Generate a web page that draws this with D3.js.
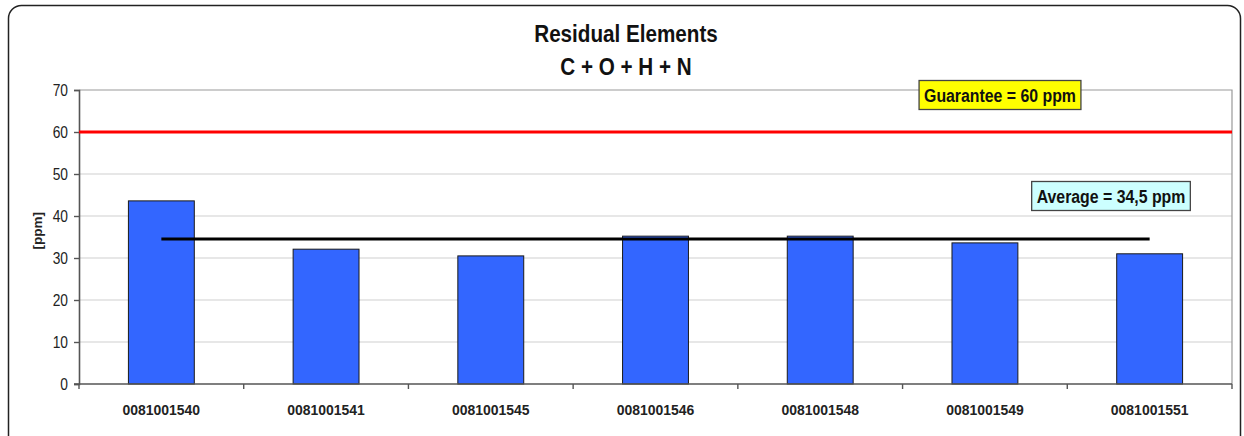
<!DOCTYPE html>
<html>
<head>
<meta charset="utf-8">
<script src="https://cdn.jsdelivr.net/npm/d3@7"></script>
<style>
  html, body { margin: 0; padding: 0; background: #fff; }
  svg text { font-family: "Liberation Sans", Arial, sans-serif; }
</style>
</head>
<body>
<svg id="chart" width="1244" height="436"></svg>
<script>
// Sample identifiers and measured residual content (ppm)
const categories = ["0081001540", "0081001541", "0081001545", "0081001546", "0081001548", "0081001549", "0081001551"];
const values = [43.6, 32.1, 30.5, 35.2, 35.2, 33.6, 31.0];
const guarantee = 60;
const average = 34.5;
const yTicks = [0, 10, 20, 30, 40, 50, 60, 70];
const titleLines = ["Residual Elements", "C + O + H + N"];
const guaranteeLabel = "Guarantee = 60 ppm";
const averageLabel = "Average = 34,5 ppm";
const yLabel = "[ppm]";

const svg = d3.select("#chart");
const margin = { left: 79, top: 90, right: 1232, bottom: 384 };

// Arial-like narrow rendering: squeeze text horizontally
function condense(sel, factor) {
  sel.each(function () {
    const w = this.getComputedTextLength();
    d3.select(this).attr("textLength", w * factor).attr("lengthAdjust", "spacingAndGlyphs");
  });
}

// Outer rounded frame
svg.append("rect")
  .attr("x", 8.5).attr("y", 5.5)
  .attr("width", 1232).attr("height", 445)
  .attr("rx", 13).attr("ry", 13)
  .attr("fill", "#fff").attr("stroke", "#222").attr("stroke-width", 1.5);

const x = d3.scaleBand().domain(categories).range([margin.left, margin.right]).paddingInner(0).paddingOuter(0);
const y = d3.scaleLinear().domain([0, 70]).range([margin.bottom, margin.top]);

// Gridlines
svg.append("g").selectAll("line").data(yTicks.filter(d => d > 0 && d < 70)).join("line")
  .attr("x1", margin.left).attr("x2", margin.right)
  .attr("y1", d => y(d)).attr("y2", d => y(d))
  .attr("stroke", "#d0d0d0").attr("stroke-width", 1.2);

// Plot area top and right edges
svg.append("path")
  .attr("d", `M${margin.left},${y(70)}H${margin.right}V${margin.bottom}`)
  .attr("fill", "none").attr("stroke", "#999").attr("stroke-width", 1.2);

// Bars
const barW = x.bandwidth() * 0.4;
svg.append("g").selectAll("rect").data(values).join("rect")
  .attr("x", (d, i) => x(categories[i]) + (x.bandwidth() - barW) / 2)
  .attr("y", d => y(d))
  .attr("width", barW)
  .attr("height", d => y(0) - y(d))
  .attr("fill", "#3366ff").attr("stroke", "#1a1a1a").attr("stroke-width", 1);

// Y axis
const yAxis = svg.append("g")
  .attr("transform", `translate(${margin.left},0)`)
  .call(d3.axisLeft(y).tickValues(yTicks).tickSize(5).tickPadding(6).tickFormat(d3.format("d")));
yAxis.select(".domain").attr("stroke", "#555").attr("stroke-width", 1.6);
yAxis.selectAll(".tick line").attr("stroke", "#555").attr("stroke-width", 1.4);
yAxis.selectAll("text").attr("font-size", 16).attr("fill", "#222").attr("font-family", "Liberation Sans, Arial, sans-serif").call(condense, 0.86);

// X axis with ticks on category boundaries
const xAxis = svg.append("g").attr("transform", `translate(0,${margin.bottom})`);
xAxis.append("line")
  .attr("x1", margin.left - 5).attr("x2", margin.right)
  .attr("stroke", "#555").attr("stroke-width", 1.6);
xAxis.selectAll(".btick").data(d3.range(categories.length + 1)).join("line")
  .attr("class", "btick")
  .attr("x1", i => margin.left + i * x.step()).attr("x2", i => margin.left + i * x.step())
  .attr("y1", 0).attr("y2", 5)
  .attr("stroke", "#555").attr("stroke-width", 1.4);
xAxis.selectAll(".xlab").data(categories).join("text")
  .attr("class", "xlab")
  .attr("x", d => x(d) + x.bandwidth() / 2)
  .attr("y", 31)
  .attr("text-anchor", "middle")
  .attr("font-size", 15).attr("font-weight", "bold").attr("fill", "#222")
  .text(d => d)
  .call(condense, 0.93);

// Y axis title
svg.append("text")
  .attr("transform", `translate(42,${y(36.5)}) rotate(-90)`)
  .attr("text-anchor", "middle")
  .attr("font-size", 13.5).attr("font-weight", "bold").attr("fill", "#222")
  .text(yLabel);

// Guarantee line
svg.append("line")
  .attr("x1", margin.left).attr("x2", margin.right)
  .attr("y1", y(guarantee)).attr("y2", y(guarantee))
  .attr("stroke", "#ff0000").attr("stroke-width", 3);

// Average line across category centres
const xc = i => x(categories[i]) + x.bandwidth() / 2;
svg.append("line")
  .attr("x1", xc(0)).attr("x2", xc(categories.length - 1))
  .attr("y1", y(average)).attr("y2", y(average))
  .attr("stroke", "#000").attr("stroke-width", 3);

// Annotation boxes
function labelBox(cx, cy, text, fill) {
  const g = svg.append("g");
  const t = g.append("text")
    .attr("x", cx).attr("y", cy + 6.5)
    .attr("text-anchor", "middle")
    .attr("font-size", 18).attr("font-weight", "bold").attr("fill", "#111")
    .text(text)
    .call(condense, 0.88);
  const w = +t.attr("textLength") + 10;
  g.insert("rect", "text")
    .attr("x", cx - w / 2).attr("y", cy - 14.5)
    .attr("width", w).attr("height", 29)
    .attr("fill", fill).attr("stroke", "#444").attr("stroke-width", 1.3);
}
labelBox(1000, 95, guaranteeLabel, "#ffff00");
labelBox(1111, 196, averageLabel, "#ccffff");

// Title
titleLines.forEach((line, i) => {
  svg.append("text")
    .attr("x", 626).attr("y", 42 + i * 32.5)
    .attr("text-anchor", "middle")
    .attr("font-size", 24).attr("font-weight", "bold").attr("fill", "#111")
    .text(line)
    .call(condense, 0.86);
});
</script>
</body>
</html>
